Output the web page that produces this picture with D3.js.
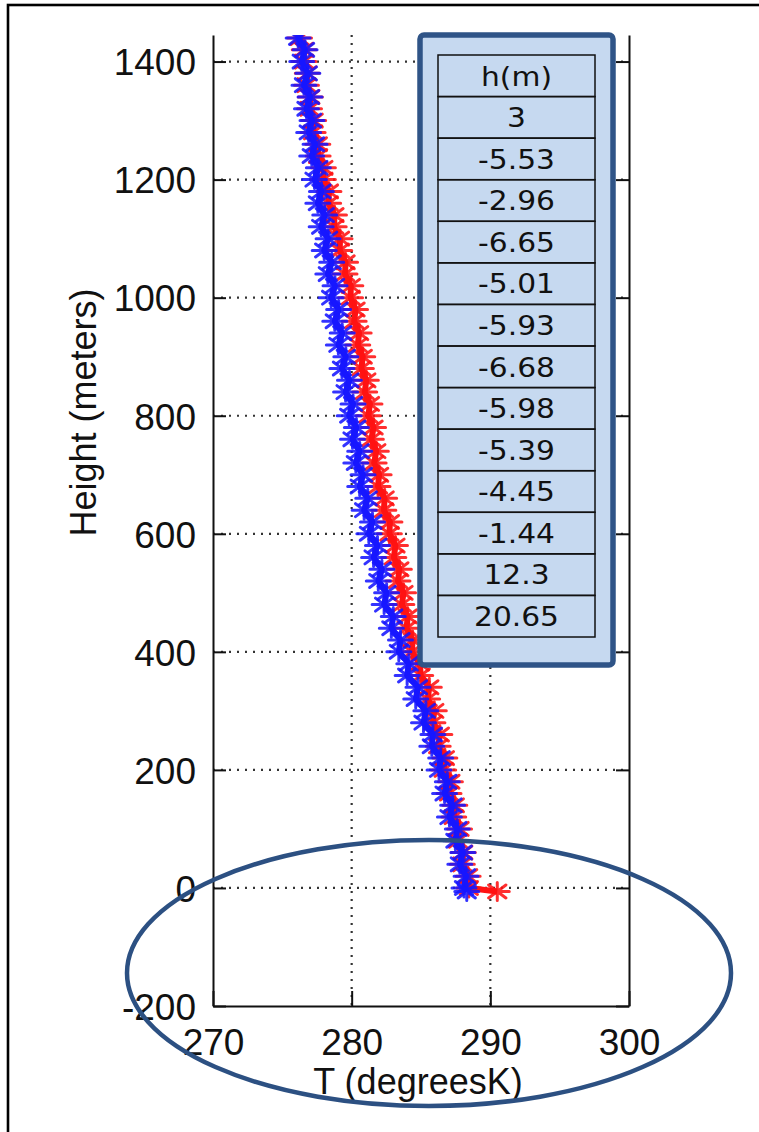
<!DOCTYPE html>
<html>
<head>
<meta charset="utf-8">
<script src="https://cdn.jsdelivr.net/npm/d3@7"></script>
<style>
  html, body { margin: 0; padding: 0; background: #ffffff; }
  svg { display: block; }
</style>
</head>
<body>
<script>
// Temperature profiles (height in metres, temperature in kelvin)
const heights = [-6, 0, 20, 40, 60, 80, 100, 120, 140, 160, 180, 200, 220, 240, 260, 280, 300,
  320, 340, 360, 380, 400, 420, 440, 460, 480, 500, 520, 540, 560, 580, 600, 620, 640, 660, 680,
  700, 720, 740, 760, 780, 800, 820, 840, 860, 880, 900, 920, 940, 960, 980, 1000, 1020, 1040,
  1060, 1080, 1100, 1120, 1140, 1160, 1180, 1200, 1220, 1240, 1260, 1280, 1300, 1320, 1340,
  1360, 1380, 1400, 1420, 1440, 1460];

const tempBlue = [288.30, 288.10, 288.25, 287.80, 288.02, 287.48, 287.62, 287.05, 287.28, 286.70,
  286.90, 286.30, 286.42, 285.78, 285.86, 285.18, 285.35, 284.62, 284.78, 284.00, 284.12, 283.40,
  283.52, 282.86, 283.00, 282.34, 282.52, 281.92, 282.18, 281.58, 281.86, 281.24, 281.50, 280.90,
  281.16, 280.58, 280.82, 280.30, 280.58, 280.06, 280.34, 279.82, 280.10, 279.56, 279.84, 279.30,
  279.58, 279.04, 279.32, 278.78, 279.06, 278.52, 278.80, 278.28, 278.56, 278.02, 278.30, 277.80,
  278.06, 277.56, 277.82, 277.32, 277.60, 277.12, 277.36, 276.90, 277.14, 276.74, 277.00, 276.56,
  276.84, 276.40, 276.64, 276.14, 276.36];

const tempRed = [290.50, 288.45, 288.40, 287.98, 288.05, 287.66, 287.78, 287.36, 287.44, 287.02,
  287.12, 286.64, 286.72, 286.24, 286.36, 285.86, 285.96, 285.48, 285.60, 284.98, 284.92, 284.34,
  284.40, 283.96, 284.04, 283.62, 283.74, 283.34, 283.44, 283.04, 283.16, 282.72, 282.76, 282.32,
  282.38, 281.90, 281.98, 281.62, 281.78, 281.42, 281.58, 281.20, 281.32, 280.94, 281.06, 280.70,
  280.80, 280.44, 280.54, 280.18, 280.28, 279.92, 279.94, 279.52, 279.56, 279.14, 279.16, 278.74,
  278.76, 278.34, 278.36, 277.96, 277.96, 277.58, 277.56, 277.22, 277.26, 276.96, 277.02, 276.74,
  276.80, 276.56, 276.58, 276.24, 276.30];

// Axis ranges and ticks
const tempDomain = [270, 300];
const heightDomain = [-200, 1445];
const tempTicks = [270, 280, 290, 300];
const heightTicks = [-200, 0, 200, 400, 600, 800, 1000, 1200, 1400];

// Inset table of heights
const tableHeader = "h(m)";
const tableValues = ["3", "-5.53", "-2.96", "-6.65", "-5.01", "-5.93", "-6.68", "-5.98",
  "-5.39", "-4.45", "-1.44", "12.3", "20.65"];

const W = 759, H = 1132;
const plot = { left: 213, right: 629, top: 35, bottom: 1006 };

const svg = d3.select("body").append("svg")
  .attr("width", W).attr("height", H)
  .style("font-family", "'Liberation Sans', Arial, sans-serif");

// outer frame
svg.append("rect").attr("x", 8).attr("y", 5).attr("width", 900).attr("height", 1300)
  .attr("fill", "none").attr("stroke", "#000").attr("stroke-width", 2.6);

const x = d3.scaleLinear().domain(tempDomain).range([plot.left, plot.right]);
const y = d3.scaleLinear().domain(heightDomain).range([plot.bottom, plot.top]);

// dotted grid
const grid = svg.append("g").attr("stroke", "#333").attr("stroke-width", 2.2)
  .attr("stroke-dasharray", "2,6");
grid.selectAll("line.gx").data(tempTicks.filter(t => t > tempDomain[0] && t < tempDomain[1]))
  .join("line").attr("class", "gx")
  .attr("x1", d => x(d)).attr("x2", d => x(d))
  .attr("y1", plot.top).attr("y2", plot.bottom);
grid.selectAll("line.gy").data(heightTicks.filter(t => t > heightDomain[0]))
  .join("line").attr("class", "gy")
  .attr("x1", plot.left).attr("x2", plot.right)
  .attr("y1", d => y(d)).attr("y2", d => y(d));

// profiles, clipped to the axes box
svg.append("clipPath").attr("id", "plotclip").append("rect")
  .attr("x", plot.left).attr("y", plot.top)
  .attr("width", plot.right - plot.left).attr("height", plot.bottom - plot.top);

// asterisk marker: horizontal, vertical and both diagonals
const star = (rx, ry) => {
  const dx = rx * 0.72, dy = ry * 0.72;
  return `M${-rx},0L${rx},0M0,${-ry}L0,${ry}M${-dx},${-dy}L${dx},${dy}M${-dx},${dy}L${dx},${-dy}`;
};

const series = [
  { name: "red", temps: tempRed, color: "#ff1212" },
  { name: "blue", temps: tempBlue, color: "#1717ff" }
];

const dataLayer = svg.append("g").attr("clip-path", "url(#plotclip)");
const line = d3.line().x(d => x(d.t)).y(d => y(d.h));

series.forEach(s => {
  const pts = heights.map((h, i) => ({ h, t: s.temps[i] }));
  const g = dataLayer.append("g");
  g.append("path").datum(pts).attr("d", line)
    .attr("fill", "none").attr("stroke", s.color).attr("stroke-width", 6)
    .attr("stroke-linejoin", "round");
  g.selectAll("path.m").data(pts).join("path").attr("class", "m")
    .attr("transform", d => `translate(${x(d.t)},${y(d.h)})`)
    .attr("d", star(12, 9))
    .attr("fill", "none").attr("stroke", s.color).attr("stroke-width", 3)
    .attr("stroke-linecap", "round").attr("stroke-opacity", 0.88);
});

// axes
const axisColor = "#111";
const fontSize = 37;
const fmt = d => String(d);

const left = svg.append("g").attr("transform", `translate(${plot.left},0)`)
  .call(d3.axisLeft(y).tickValues(heightTicks).tickSizeInner(-13).tickSizeOuter(0)
    .tickPadding(17).tickFormat(fmt));
const right = svg.append("g").attr("transform", `translate(${plot.right},0)`)
  .call(d3.axisRight(y).tickValues(heightTicks).tickSizeInner(-13).tickSizeOuter(0)
    .tickFormat(""));
const bottom = svg.append("g").attr("transform", `translate(0,${plot.bottom})`)
  .call(d3.axisBottom(x).tickValues(tempTicks).tickSizeInner(-15).tickSizeOuter(0)
    .tickPadding(23).tickFormat(fmt));

[left, right, bottom].forEach(a => {
  a.select(".domain").attr("stroke", axisColor).attr("stroke-width", 2);
  a.selectAll(".tick line").attr("stroke", axisColor).attr("stroke-width", 2);
  a.selectAll(".tick text").attr("fill", "#111").style("font-size", fontSize + "px")
    .style("font-family", "'Liberation Sans', Arial, sans-serif");
});
left.selectAll(".tick text").attr("dy", "0.36em");
bottom.selectAll(".tick text").attr("dy", "0.71em");

// axis titles
svg.append("text")
  .attr("transform", `translate(96,${(y(-200) + y(1445)) / 2 - 108}) rotate(-90)`)
  .attr("text-anchor", "middle").attr("fill", "#111").style("font-size", "36px")
  .text("Height (meters)");
svg.append("text").attr("x", 418).attr("y", 1094).attr("text-anchor", "middle")
  .attr("fill", "#111").style("font-size", "36px").text("T (degreesK)");

// inset table
const box = svg.append("g");
box.append("rect").attr("x", 420).attr("y", 35).attr("width", 193).attr("height", 630)
  .attr("rx", 4).attr("fill", "#c6d9f0").attr("stroke", "#2f5487").attr("stroke-width", 5.5);

const rows = [tableHeader, ...tableValues];
const rowScale = d3.scaleBand().domain(d3.range(rows.length)).range([55, 637]);
const tx0 = 438, tx1 = 595;
box.selectAll("rect.cell").data(rows).join("rect").attr("class", "cell")
  .attr("x", tx0).attr("y", (d, i) => rowScale(i))
  .attr("width", tx1 - tx0).attr("height", rowScale.bandwidth())
  .attr("fill", "none").attr("stroke", "#111").attr("stroke-width", 1.5);
box.selectAll("text.cell").data(rows).join("text").attr("class", "cell")
  .attr("transform", (d, i) =>
    `translate(${(tx0 + tx1) / 2},${rowScale(i) + rowScale.bandwidth() / 2}) scale(1.1,1)`)
  .attr("dy", "0.36em").attr("text-anchor", "middle").attr("fill", "#111")
  .style("font-family", "'DejaVu Sans', Verdana, sans-serif").style("font-size", "27px")
  .text(d => d);

// highlight ellipse around the surface layer
svg.append("ellipse").attr("cx", 429).attr("cy", 973).attr("rx", 302).attr("ry", 133)
  .attr("fill", "none").attr("stroke", "#2c5082").attr("stroke-width", 4.5);
</script>
</body>
</html>
